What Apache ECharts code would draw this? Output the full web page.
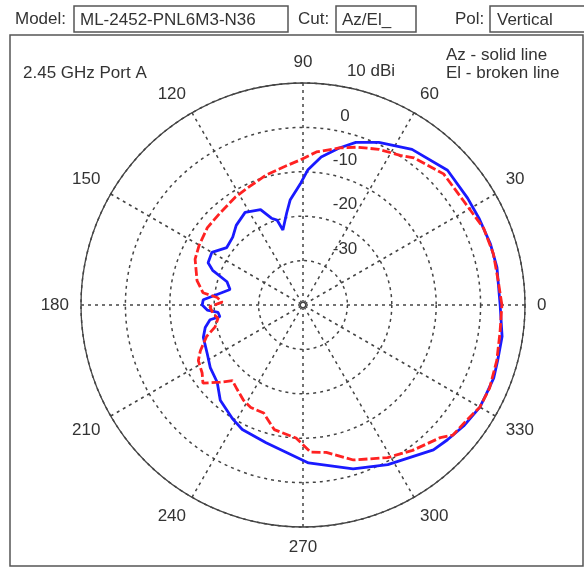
<!DOCTYPE html>
<html>
<head>
<meta charset="utf-8">
<script src="https://cdn.jsdelivr.net/npm/echarts@6/dist/echarts.min.js"></script>
<style>
  html, body { margin: 0; padding: 0; background: #fff; }
  #pattern { width: 584px; height: 571px; }
</style>
</head>
<body>
<div id="pattern"></div>
<script>
// Az cut - solid blue line (angle in degrees ccw from 0, gain in dBi)
var azAngles = [0, 11, 18, 26, 33, 43, 55, 65, 72, 77, 83, 88, 91, 97, 100, 105, 107, 110, 114, 122,
  130, 136, 143, 150, 156, 159, 163, 168, 173, 177, 180, 183, 185, 188, 189, 193, 198, 207, 214, 222,
  229, 238, 244, 255, 272, 287, 298, 312, 317, 323, 330, 334, 339, 344, 351]
var azGain = [4.4, 4.5, 4.4, 4.2, 4.2, 4.5, 2.8, 0.4, -1.5, -3.7, -6.4, -9.6, -12.5, -16.2, -18.9, -22.5, -20, -19.2, -16.5, -15.4,
  -16.6, -18, -18.5, -16.3, -16.6, -18.2, -22.1, -23.2, -20.5, -17.5, -17.3, -18.4, -20.8, -21.1, -18.8, -17.4, -16.4, -15.8, -14.8, -14,
  -11.6, -9.9, -8.8, -7.9, -4.4, -1.4, 0.7, 3.9, 4.5, 5.3, 6.0, 5.9, 6.0, 5.6, 5.4]

// El cut - broken red line
var elAngles = [0, 7, 15, 23, 33, 43, 53, 57, 64, 71, 77, 85, 91, 98, 106, 114, 122, 132, 141, 150,
  157, 167, 173, 175, 178, 181, 185, 189, 194, 198, 204, 208, 214, 218, 223, 227, 232, 238, 243, 250,
  257, 267, 273, 279, 288, 299, 307, 316, 319, 325, 330, 336, 344, 352]
var elGain = [4.8, 4.3, 4.4, 4.2, 3.1, 3.3, 1.5, 0.2, -1.0, -2.4, -3.7, -5.4, -7.3, -8.6, -9.6, -10.7, -11.3, -12.1, -12.3, -13,
  -13.6, -15.5, -17.3, -20.6, -21.8, -19, -19.6, -20.6, -19.6, -17.2, -14.7, -13.3, -12.6, -11.4, -14.5, -16.7, -15.9, -14.7, -14.1, -14.1,
  -11.2, -10, -6.8, -6.4, -3.3, -0.7, 1.0, 3.0, 4.7, 5.1, 6.0, 6.0, 5.4, 4.8]

var gainMin = -40
var gainMax = 10
var gainStep = 10

var font = "'Liberation Sans', Arial, sans-serif"
var ink = '#333'
var gridLine = { color: '#444', type: [3, 4], width: 1.5 }

// angle axis starts at 90 (top) so the radius labels sit on the vertical line
function toPolar (angles, gains) {
  var pts = angles.map(function (a, i) {
    return [gains[i], a < 90 ? a + 360 : a]
  })
  pts.push(pts[0])
  return pts
}

var chart = echarts.init(document.getElementById('pattern'))
chart.setOption({
  animation: false,
  polar: {
    center: [303, 305],
    radius: 222
  },
  angleAxis: {
    type: 'value',
    min: 90,
    max: 450,
    interval: 30,
    startAngle: 90,
    clockwise: false,
    axisLine: { lineStyle: { color: '#444', width: 1.3 } },
    axisTick: { show: false },
    axisLabel: {
      margin: 12,
      color: ink,
      fontSize: 17,
      fontFamily: font,
      formatter: function (v) { return v === 450 ? '' : String(v % 360) }
    },
    splitLine: { lineStyle: gridLine }
  },
  radiusAxis: {
    min: gainMin,
    max: gainMax,
    interval: gainStep,
    axisLine: { show: false },
    axisTick: { show: false },
    axisLabel: {
      color: ink,
      fontSize: 17,
      fontFamily: font,
      margin: -42,
      align: 'center',
      verticalAlign: 'bottom',
      padding: [0, 0, 3, 0],
      formatter: function (v) {
        if (v === gainMin) return ''
        if (v === gainMax) return '{u|10 dBi}'
        return String(v)
      },
      rich: {
        u: { fontSize: 17, fontFamily: font, color: ink, padding: [0, 0, 0, 52] }
      }
    },
    splitLine: { lineStyle: gridLine }
  },
  series: [
    {
      name: 'Az',
      type: 'line',
      coordinateSystem: 'polar',
      symbol: 'none',
      lineStyle: { color: '#1a1aff', width: 2.8 },
      data: toPolar(azAngles, azGain),
      z: 3
    },
    {
      name: 'El',
      type: 'line',
      coordinateSystem: 'polar',
      symbol: 'none',
      lineStyle: { color: '#ff2222', width: 2.8, type: [9, 3] },
      data: toPolar(elAngles, elGain),
      z: 4
    }
  ],
  graphic: [
    { type: 'rect', shape: { x: 10, y: 35, width: 573, height: 531 }, style: { fill: 'none', stroke: '#555', lineWidth: 1.5 } },
    { type: 'text', x: 15, y: 19, style: { text: 'Model:', font: '17px ' + font, fill: ink, verticalAlign: 'middle' } },
    { type: 'rect', shape: { x: 74, y: 6, width: 214, height: 26 }, style: { fill: '#fff', stroke: '#555', lineWidth: 1.5 } },
    { type: 'text', x: 80, y: 20, style: { text: 'ML-2452-PNL6M3-N36', font: '17px ' + font, fill: ink, verticalAlign: 'middle' } },
    { type: 'text', x: 298, y: 19, style: { text: 'Cut:', font: '17px ' + font, fill: ink, verticalAlign: 'middle' } },
    { type: 'rect', shape: { x: 336, y: 6, width: 80, height: 26 }, style: { fill: '#fff', stroke: '#555', lineWidth: 1.5 } },
    { type: 'text', x: 342, y: 20, style: { text: 'Az/El_', font: '17px ' + font, fill: ink, verticalAlign: 'middle' } },
    { type: 'text', x: 455, y: 19, style: { text: 'Pol:', font: '17px ' + font, fill: ink, verticalAlign: 'middle' } },
    { type: 'rect', shape: { x: 490, y: 6, width: 100, height: 26 }, style: { fill: '#fff', stroke: '#555', lineWidth: 1.5 } },
    { type: 'text', x: 497, y: 20, style: { text: 'Vertical', font: '17px ' + font, fill: ink, verticalAlign: 'middle' } },
    { type: 'text', x: 23, y: 73, style: { text: '2.45 GHz Port A', font: '17px ' + font, fill: ink, verticalAlign: 'middle' } },
    { type: 'text', x: 446, y: 55, style: { text: 'Az - solid line', font: '17px ' + font, fill: ink, verticalAlign: 'middle' } },
    { type: 'text', x: 446, y: 73, style: { text: 'El - broken line', font: '17px ' + font, fill: ink, verticalAlign: 'middle' } }
  ]
})
</script>
</body>
</html>
